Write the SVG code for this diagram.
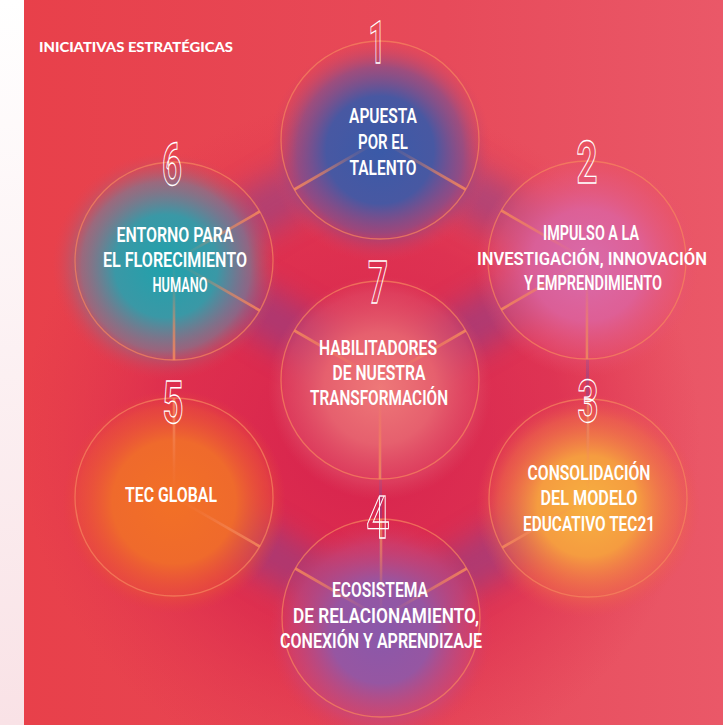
<svg xmlns="http://www.w3.org/2000/svg" width="723" height="725" viewBox="0 0 723 725">
  <defs>
    <style>
      .title { font-family: Lato, "Open Sans", "Liberation Sans", sans-serif; font-weight: 900; font-size: 14px; fill: #fff; }
      .lbl { font-family: Roboto, "Liberation Sans", sans-serif; font-weight: 600; font-size: 20px; fill: #fff; text-anchor: middle; }
      .num { font-family: Roboto, "Liberation Sans", sans-serif; font-weight: 700; font-size: 60px; fill: none; stroke: #fff; stroke-width: 1.3; text-anchor: middle; }
      .ring { fill: none; stroke: #f6865e; stroke-width: 1.3; opacity: 0.7; }
      .spoke { stroke: url(#spokeFade); stroke-width: 2.6; }
      .band { stroke: #6a48a2; stroke-width: 50; stroke-linecap: round; opacity: 0.4; filter: url(#soft); }
    </style>

    <linearGradient id="bgBase" x1="0" y1="0" x2="1" y2="0">
      <stop offset="0" stop-color="#e8404a"/>
      <stop offset="0.6" stop-color="#e74a5a"/>
      <stop offset="1" stop-color="#ea5868"/>
    </linearGradient>
    <radialGradient id="crimson" cx="360" cy="440" r="340" gradientUnits="userSpaceOnUse">
      <stop offset="0" stop-color="#d41c4c" stop-opacity="0.85"/>
      <stop offset="0.6" stop-color="#d8224c" stop-opacity="0.6"/>
      <stop offset="1" stop-color="#e0304c" stop-opacity="0"/>
    </radialGradient>
    <linearGradient id="strip" x1="0" y1="0" x2="0" y2="1">
      <stop offset="0" stop-color="#ffffff"/>
      <stop offset="1" stop-color="#f9e2e6"/>
    </linearGradient>

    <!-- spoke fades out toward the node centre -->
    <linearGradient id="spokeFade" gradientUnits="userSpaceOnUse" x1="0" y1="0" x2="99" y2="0">
      <stop offset="0" stop-color="#f58a5c" stop-opacity="0"/>
      <stop offset="0.3" stop-color="#f58a5c" stop-opacity="0.15"/>
      <stop offset="0.65" stop-color="#f58a5c" stop-opacity="0.6"/>
      <stop offset="1" stop-color="#f58a5c" stop-opacity="0.85"/>
    </linearGradient>

    <filter id="soft" x="-40%" y="-40%" width="180%" height="180%">
      <feGaussianBlur stdDeviation="14"/>
    </filter>

    <!-- node glows -->
    <radialGradient id="glow1">
      <stop offset="0" stop-color="#3a5aa8"/>
      <stop offset="0.48" stop-color="#4858a2"/>
      <stop offset="0.74" stop-color="#7e4f8e" stop-opacity="0.7"/>
      <stop offset="1" stop-color="#d84060" stop-opacity="0"/>
    </radialGradient>
    <radialGradient id="glow2">
      <stop offset="0" stop-color="#db6caa"/>
      <stop offset="0.5" stop-color="#dd629c" stop-opacity="0.9"/>
      <stop offset="0.8" stop-color="#e4587e" stop-opacity="0.5"/>
      <stop offset="1" stop-color="#e8506a" stop-opacity="0"/>
    </radialGradient>
    <radialGradient id="glow3">
      <stop offset="0" stop-color="#f7b040"/>
      <stop offset="0.45" stop-color="#f59c40"/>
      <stop offset="0.8" stop-color="#f07048" stop-opacity="0.55"/>
      <stop offset="1" stop-color="#ea5050" stop-opacity="0"/>
    </radialGradient>
    <radialGradient id="glow4">
      <stop offset="0" stop-color="#8a58aa"/>
      <stop offset="0.45" stop-color="#9656a2"/>
      <stop offset="0.8" stop-color="#c04a82" stop-opacity="0.5"/>
      <stop offset="1" stop-color="#d63c60" stop-opacity="0"/>
    </radialGradient>
    <radialGradient id="glow5">
      <stop offset="0" stop-color="#f27026"/>
      <stop offset="0.55" stop-color="#ef6a2c"/>
      <stop offset="0.85" stop-color="#ea5238" stop-opacity="0.55"/>
      <stop offset="1" stop-color="#e44040" stop-opacity="0"/>
    </radialGradient>
    <radialGradient id="glow6">
      <stop offset="0" stop-color="#1fa2ac"/>
      <stop offset="0.45" stop-color="#3a98a6"/>
      <stop offset="0.74" stop-color="#7a7a92" stop-opacity="0.7"/>
      <stop offset="1" stop-color="#d84458" stop-opacity="0"/>
    </radialGradient>
    <radialGradient id="glow7">
      <stop offset="0" stop-color="#ee7878"/>
      <stop offset="0.5" stop-color="#e6606e"/>
      <stop offset="0.85" stop-color="#e0506a" stop-opacity="0.5"/>
      <stop offset="1" stop-color="#dc4660" stop-opacity="0"/>
    </radialGradient>
  </defs>

  <!-- backdrop -->
  <g id="background">
    <rect x="0" y="0" width="24" height="725" fill="url(#strip)"/>
    <rect x="24" y="0" width="699" height="725" fill="url(#bgBase)"/>
    <rect x="24" y="0" width="699" height="725" fill="url(#crimson)"/>
  </g>

  <text class="title" x="39" y="52" textLength="194" lengthAdjust="spacingAndGlyphs">INICIATIVAS ESTRATÉGICAS</text>

  <!-- links between initiatives -->
  <g id="connectors">
    <line class="band" x1="380" y1="140" x2="587" y2="260"/>
    <line class="band" x1="587" y1="260" x2="588" y2="498"/>
    <line class="band" x1="588" y1="498" x2="381" y2="618"/>
    <line class="band" x1="381" y1="618" x2="174" y2="497"/>
    <line class="band" x1="174" y1="497" x2="174" y2="261"/>
    <line class="band" x1="174" y1="261" x2="380" y2="140"/>
    <line class="band" x1="380" y1="380" x2="587" y2="260"/>
    <line class="band" x1="380" y1="380" x2="381" y2="618"/>
    <line class="band" x1="380" y1="380" x2="174" y2="261"/>
  </g>

  <g id="node1" transform="translate(380 140)">
    <circle r="112" cy="10" fill="url(#glow1)"/>
    <line class="spoke" x2="99" transform="rotate(150)"/>
    <line class="spoke" x2="99" transform="rotate(30)"/>
    <circle class="ring" r="99"/>
    <text class="num" x="-3" y="-77" textLength="17" lengthAdjust="spacingAndGlyphs">1</text>
    <text class="lbl" x="3" y="-17" textLength="68" lengthAdjust="spacingAndGlyphs">APUESTA</text>
    <text class="lbl" x="3" y="9" textLength="50" lengthAdjust="spacingAndGlyphs">POR EL</text>
    <text class="lbl" x="3" y="35" textLength="67" lengthAdjust="spacingAndGlyphs">TALENTO</text>
  </g>

  <g id="node2" transform="translate(587 260)">
    <circle r="112" cy="5" fill="url(#glow2)"/>
    <line class="spoke" x2="99" transform="rotate(-150)"/>
    <line class="spoke" x2="99" transform="rotate(150)"/>
    <line class="spoke" x2="99" transform="rotate(90)"/>
    <circle class="ring" r="99"/>
    <text class="num" x="0" y="-77" textLength="21" lengthAdjust="spacingAndGlyphs">2</text>
    <text class="lbl" x="4" y="-20" textLength="96" lengthAdjust="spacingAndGlyphs">IMPULSO A LA</text>
    <text class="lbl" x="5" y="5" style="font-size:17.5px" textLength="230" lengthAdjust="spacingAndGlyphs">INVESTIGACIÓN, INNOVACIÓN</text>
    <text class="lbl" x="6" y="30" textLength="138" lengthAdjust="spacingAndGlyphs">Y EMPRENDIMIENTO</text>
  </g>

  <g id="node3" transform="translate(588 498)">
    <circle r="112" cy="8" fill="url(#glow3)"/>
    <line class="spoke" x2="99" transform="rotate(-90)"/>
    <line class="spoke" x2="99" transform="rotate(150)"/>
    <circle class="ring" r="99"/>
    <text class="num" x="0" y="-76" textLength="21" lengthAdjust="spacingAndGlyphs">3</text>
    <text class="lbl" x="1" y="-18" textLength="123" lengthAdjust="spacingAndGlyphs">CONSOLIDACIÓN</text>
    <text class="lbl" x="1" y="7" textLength="97" lengthAdjust="spacingAndGlyphs">DEL MODELO</text>
    <text class="lbl" x="1" y="33" textLength="132" lengthAdjust="spacingAndGlyphs">EDUCATIVO TEC21</text>
  </g>

  <g id="node4" transform="translate(381 618)">
    <circle r="112" cy="15" fill="url(#glow4)"/>
    <line class="spoke" x2="99" transform="rotate(-30)"/>
    <line class="spoke" x2="99" transform="rotate(-90)"/>
    <line class="spoke" x2="99" transform="rotate(-150)"/>
    <circle class="ring" r="99"/>
    <text class="num" x="-3" y="-80" textLength="23" lengthAdjust="spacingAndGlyphs">4</text>
    <text class="lbl" x="-1" y="-21" textLength="96" lengthAdjust="spacingAndGlyphs">ECOSISTEMA</text>
    <text class="lbl" x="5" y="5" textLength="186" lengthAdjust="spacingAndGlyphs">DE RELACIONAMIENTO,</text>
    <text class="lbl" x="0" y="30" textLength="202" lengthAdjust="spacingAndGlyphs">CONEXIÓN Y APRENDIZAJE</text>
  </g>

  <g id="node5" transform="translate(174 497)">
    <circle r="112" cy="5" fill="url(#glow5)"/>
    <line class="spoke" x2="99" transform="rotate(-90)"/>
    <line class="spoke" x2="99" transform="rotate(30)"/>
    <circle class="ring" r="99"/>
    <text class="num" x="-1" y="-74" textLength="21" lengthAdjust="spacingAndGlyphs">5</text>
    <text class="lbl" x="-3" y="5" textLength="92" lengthAdjust="spacingAndGlyphs">TEC GLOBAL</text>
  </g>

  <g id="node6" transform="translate(174 261)">
    <circle r="114" cx="-8" cy="5" fill="url(#glow6)"/>
    <line class="spoke" x2="99" transform="rotate(-30)"/>
    <line class="spoke" x2="99" transform="rotate(90)"/>
    <line class="spoke" x2="99" transform="rotate(30)"/>
    <circle class="ring" r="99"/>
    <text class="num" x="-2" y="-76" textLength="20" lengthAdjust="spacingAndGlyphs">6</text>
    <text class="lbl" x="1" y="-19" textLength="117" lengthAdjust="spacingAndGlyphs">ENTORNO PARA</text>
    <text class="lbl" x="1" y="6" textLength="144" lengthAdjust="spacingAndGlyphs">EL FLORECIMIENTO</text>
    <text class="lbl" x="6" y="31" textLength="55" lengthAdjust="spacingAndGlyphs">HUMANO</text>
  </g>

  <g id="node7" transform="translate(380 380)">
    <circle r="112" cy="8" fill="url(#glow7)"/>
    <line class="spoke" x2="99" transform="rotate(-30)"/>
    <line class="spoke" x2="99" transform="rotate(-150)"/>
    <line class="spoke" x2="99" transform="rotate(90)"/>
    <circle class="ring" r="99"/>
    <text class="num" x="-2" y="-77" textLength="20" lengthAdjust="spacingAndGlyphs">7</text>
    <text class="lbl" x="-2" y="-25" textLength="118" lengthAdjust="spacingAndGlyphs">HABILITADORES</text>
    <text class="lbl" x="-1" y="0" textLength="93" lengthAdjust="spacingAndGlyphs">DE NUESTRA</text>
    <text class="lbl" x="-1" y="25" textLength="138" lengthAdjust="spacingAndGlyphs">TRANSFORMACIÓN</text>
  </g>
</svg>
